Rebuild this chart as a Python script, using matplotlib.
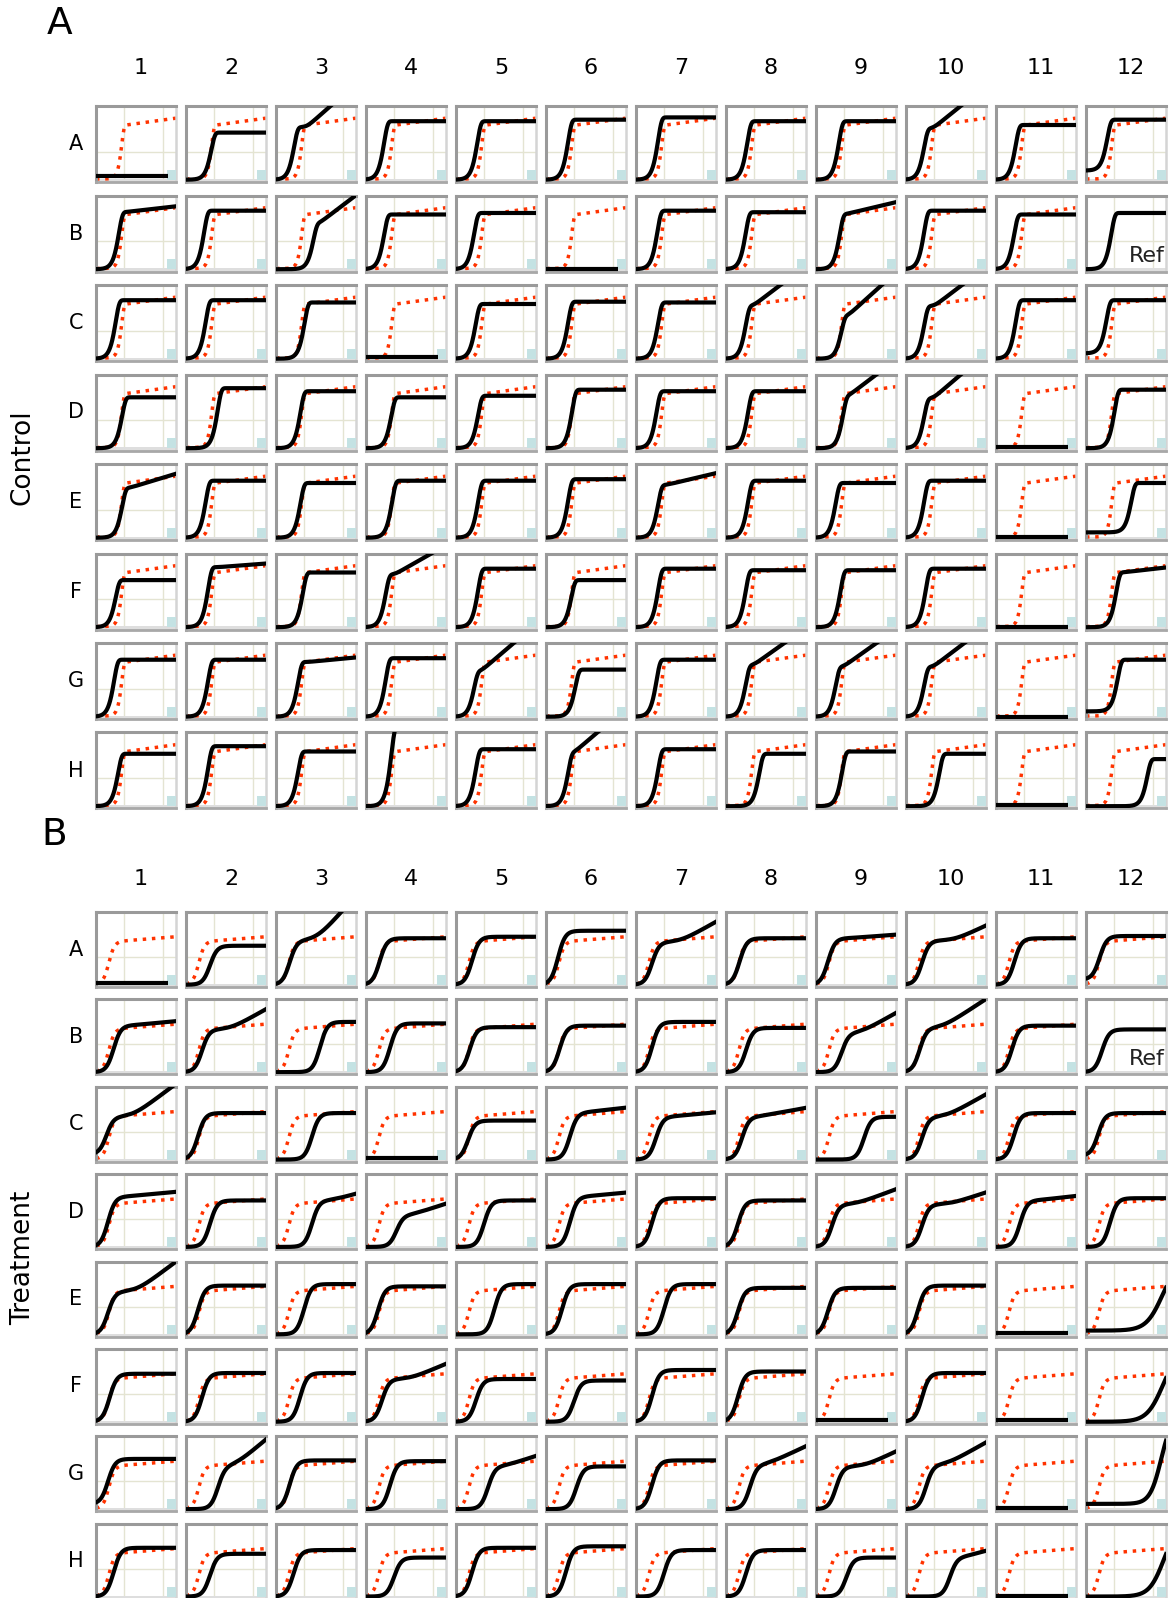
import numpy as np
import matplotlib
matplotlib.use("Agg")
import matplotlib.pyplot as plt
from matplotlib.patches import Rectangle

# ---- well layout ----
rows = list("ABCDEFGH")
cols = [str(i) for i in range(1, 13)]

# ---- reference (red) curve per panel: half-height x, plateau, drift, width ----
red_mid = [0.31, 0.16]
red_plat = [0.74, 0.60]
red_drift = [0.10, 0.07]
red_w = [0.03, 0.035]

# ---- Control panel: black curve half-height x (None = no growth) and plateau ----
ctrl_mid = [
    [None, 0.30, 0.21, 0.21, 0.25, 0.26, 0.26, 0.25, 0.27, 0.21, 0.23, 0.25],
    [0.27, 0.21, 0.45, 0.21, 0.21, None, 0.25, 0.23, 0.28, 0.21, 0.21, 0.30],
    [0.23, 0.23, 0.34, None, 0.23, 0.26, 0.26, 0.23, 0.30, 0.21, 0.23, 0.24],
    [0.31, 0.38, 0.29, 0.30, 0.26, 0.31, 0.24, 0.26, 0.32, 0.21, None, 0.34],
    [0.31, 0.23, 0.29, 0.31, 0.26, 0.26, 0.26, 0.26, 0.23, 0.21, None, 0.55],
    [0.23, 0.26, 0.32, 0.23, 0.26, 0.30, 0.26, 0.23, 0.29, 0.23, None, 0.36],
    [0.21, 0.26, 0.26, 0.23, 0.21, 0.35, 0.24, 0.23, 0.23, 0.21, None, 0.38],
    [0.26, 0.26, 0.26, 0.30, 0.23, 0.26, 0.26, 0.40, 0.31, 0.40, None, 0.75],
]
ctrl_plat = [
    [0.08, 0.65, 0.72, 0.80, 0.80, 0.82, 0.85, 0.80, 0.80, 0.70, 0.75, 0.82],
    [0.78, 0.80, 0.62, 0.75, 0.77, 0.03, 0.80, 0.78, 0.75, 0.80, 0.75, 0.77],
    [0.80, 0.80, 0.77, 0.05, 0.75, 0.78, 0.77, 0.72, 0.58, 0.72, 0.80, 0.80],
    [0.70, 0.82, 0.78, 0.70, 0.72, 0.80, 0.78, 0.78, 0.70, 0.68, 0.04, 0.80],
    [0.68, 0.78, 0.75, 0.78, 0.78, 0.80, 0.72, 0.78, 0.75, 0.78, 0.04, 0.75],
    [0.65, 0.82, 0.75, 0.72, 0.80, 0.65, 0.80, 0.78, 0.78, 0.80, 0.03, 0.75],
    [0.78, 0.78, 0.75, 0.80, 0.62, 0.65, 0.78, 0.70, 0.68, 0.68, 0.03, 0.78],
    [0.72, 0.82, 0.75, 1.10, 0.78, 0.72, 0.78, 0.72, 0.75, 0.72, 0.04, 0.65],
]
# late linear rise: well -> (start x, slope)
ctrl_rise = {
    "A3": (0.38, 0.93), "A10": (0.33, 0.85), "B1": (0.35, 0.12),
    "B3": (0.52, 0.80), "B9": (0.35, 0.25), "C8": (0.33, 0.80),
    "C9": (0.38, 0.95), "C10": (0.35, 0.80), "D9": (0.38, 0.80),
    "D10": (0.33, 0.90), "E1": (0.40, 0.32), "E7": (0.36, 0.25),
    "F2": (0.40, 0.08), "F4": (0.35, 0.60), "F12": (0.45, 0.12),
    "G3": (0.40, 0.10), "G5": (0.30, 0.90), "G8": (0.33, 0.75),
    "G9": (0.33, 0.75), "G10": (0.33, 0.80), "H6": (0.33, 0.90),
}
ctrl_base = {"A12": 0.15, "C12": 0.10, "E12": 0.10, "G12": 0.10}
ctrl_width = {}

# ---- Treatment panel ----
trt_mid = [
    [None, 0.30, 0.17, 0.17, 0.20, 0.15, 0.20, 0.17, 0.15, 0.20, 0.23, 0.17],
    [0.22, 0.20, 0.55, 0.30, 0.17, 0.17, 0.20, 0.25, 0.32, 0.17, 0.20, 0.20],
    [0.13, 0.15, 0.45, None, 0.15, 0.30, 0.25, 0.20, 0.60, 0.20, 0.22, 0.15],
    [0.15, 0.30, 0.45, 0.38, 0.35, 0.30, 0.20, 0.15, 0.20, 0.20, 0.30, 0.30],
    [0.15, 0.15, 0.35, 0.15, 0.48, 0.20, 0.35, 0.15, 0.15, 0.15, None, 0.95],
    [0.17, 0.20, 0.30, 0.20, 0.25, 0.35, 0.20, 0.15, None, 0.20, None, 0.96],
    [0.15, 0.40, 0.17, 0.30, 0.40, 0.38, 0.20, 0.30, 0.25, 0.25, None, 0.94],
    [0.22, 0.30, 0.22, 0.35, 0.20, 0.25, 0.35, 0.25, 0.38, 0.55, None, 0.97],
]
trt_plat = [
    [0.05, 0.55, 0.62, 0.65, 0.67, 0.75, 0.60, 0.65, 0.65, 0.62, 0.65, 0.68],
    [0.65, 0.60, 0.70, 0.68, 0.63, 0.65, 0.70, 0.62, 0.55, 0.62, 0.65, 0.60],
    [0.60, 0.65, 0.65, 0.05, 0.55, 0.65, 0.60, 0.60, 0.60, 0.60, 0.65, 0.65],
    [0.70, 0.65, 0.65, 0.45, 0.65, 0.70, 0.68, 0.65, 0.60, 0.60, 0.65, 0.68],
    [0.60, 0.68, 0.70, 0.67, 0.70, 0.70, 0.70, 0.65, 0.65, 0.68, 0.05, 1.00],
    [0.67, 0.68, 0.68, 0.60, 0.60, 0.58, 0.72, 0.70, 0.05, 0.68, 0.05, 1.00],
    [0.70, 0.60, 0.68, 0.67, 0.60, 0.60, 0.68, 0.62, 0.60, 0.62, 0.05, 1.30],
    [0.68, 0.60, 0.65, 0.55, 0.68, 0.70, 0.65, 0.65, 0.55, 0.55, 0.04, 1.00],
]
trt_rise = {
    "A3": (0.50, 1.20), "A7": (0.55, 0.60), "A9": (0.40, 0.08),
    "A10": (0.60, 0.50), "B1": (0.40, 0.10), "B2": (0.55, 0.60),
    "B9": (0.55, 0.60), "B10": (0.45, 0.70), "C1": (0.45, 0.80),
    "C6": (0.40, 0.12), "C7": (0.40, 0.10), "C8": (0.40, 0.20),
    "C10": (0.50, 0.60), "D1": (0.35, 0.10), "D3": (0.70, 0.30),
    "D4": (0.55, 0.35), "D6": (0.45, 0.10), "D9": (0.50, 0.40),
    "D10": (0.55, 0.35), "D11": (0.50, 0.12), "E1": (0.50, 0.80),
    "F4": (0.55, 0.45), "G2": (0.60, 0.90), "G5": (0.60, 0.35),
    "G8": (0.50, 0.50), "G9": (0.60, 0.50), "G10": (0.50, 0.60),
    "H10": (0.70, 0.30),
}
trt_base = {"A12": 0.10, "C1": 0.10, "C12": 0.08, "E12": 0.08,
            "G1": 0.10, "G12": 0.10}
# slower-rising wells: well -> width
trt_width = {"E12": 0.10, "F12": 0.10, "G12": 0.07, "H12": 0.09}

ref_well = "B12"

W, H = 1169, 1598
fig = plt.figure(figsize=(W / 100, H / 100), dpi=100)
xs = np.linspace(0, 1, 400)


def growth(x, mid, w, kind):
    # 0..1 growth curve with half height at `mid`
    if kind == "gompertz":
        # slow exponential start, sharp bend into the plateau
        m = mid - w * np.log(np.log(2))
        return 1.0 - np.exp(-np.exp(np.clip((x - m) / w, -50, 50)))
    return 1.0 / (1.0 + np.exp(-(x - mid) / w))


def softplus(t, k):
    return k * np.logaddexp(0, t / k)


panels = [
    dict(name="A", side="Control", mid=ctrl_mid, plat=ctrl_plat, rise=ctrl_rise,
         base=ctrl_base, width=ctrl_width, top=106, pitch=89.5, h=76, w=0.045,
         kind="gompertz", k=0.03, lab_y=68, side_y=457, letter=(60, 24)),
    dict(name="B", side="Treatment", mid=trt_mid, plat=trt_plat, rise=trt_rise,
         base=trt_base, width=trt_width, top=912, pitch=87.4, h=75, w=0.045,
         kind="logistic", k=0.08, lab_y=879, side_y=1258, letter=(54, 835)),
]

for p, P in enumerate(panels):
    fig.text(P["letter"][0] / W, 1 - P["letter"][1] / H, P["name"], fontsize=27,
             ha="center", va="center")
    fig.text(23 / W, 1 - P["side_y"] / H, P["side"], fontsize=19, rotation=90,
             ha="center", va="center")
    for j, c in enumerate(cols):
        fig.text((141 + 90 * j) / W, 1 - P["lab_y"] / H, c, fontsize=16,
                 ha="center", va="center")

    red = (0.04 + (red_plat[p] - 0.04) * growth(xs, red_mid[p], red_w[p], P["kind"])
           + red_drift[p] * np.clip((xs - red_mid[p]) / (1 - red_mid[p]), 0, 1))

    for i, r in enumerate(rows):
        top = P["top"] + P["pitch"] * i
        fig.text(76 / W, 1 - (top + P["h"] / 2) / H, r, fontsize=15,
                 ha="center", va="center")
        for j, c in enumerate(cols):
            well = r + c
            left = 96 + 90 * j
            ax = fig.add_axes([left / W, 1 - (top + P["h"]) / H, 80 / W, P["h"] / H])
            ax.set_xlim(0, 1)
            ax.set_ylim(0, 1)
            ax.set_xticks([])
            ax.set_yticks([])
            # grid
            for gx in (0.35, 0.84):
                ax.axvline(gx, color="#e4e4d2", lw=1, zorder=0)
            ax.axhline(0.4, color="#e4e4d2", lw=1, zorder=0)
            ax.add_patch(Rectangle((0, 0), 1, 0.04, transform=ax.transAxes,
                                   color="#dedede", lw=0, zorder=0))
            for s in ("top", "left"):
                ax.spines[s].set_color("#9a9a9a")
                ax.spines[s].set_linewidth(2.2)
            ax.spines["bottom"].set_color("#a8a8a8")
            ax.spines["bottom"].set_linewidth(2.0)
            ax.spines["right"].set_color("#d4d4d4")
            ax.spines["right"].set_linewidth(1.8)

            is_ref = (well == ref_well)
            if not is_ref:
                ax.plot(xs, red, ls=":", color="#ff3300", lw=2.5, zorder=2)
                ax.add_patch(Rectangle((0.89, 0.03), 0.11, 0.13,
                                       transform=ax.transAxes,
                                       color="#c4e2e3", lw=0, zorder=3))

            m = P["mid"][i][j]
            lvl = P["plat"][i][j]
            if m is None:
                sel = xs <= 0.9
                ax.plot(xs[sel], np.full(sel.sum(), lvl), color="black",
                        lw=3.0, zorder=4, solid_capstyle="butt")
            else:
                b = P["base"].get(well, 0.03)
                wd = P["width"].get(well, P["w"])
                y = b + (lvl - b) * growth(xs, m, wd, P["kind"])
                if well in P["rise"]:
                    s0, sl = P["rise"][well]
                    y = y + sl * softplus(xs - s0, P["k"])
                ax.plot(xs, y, color="black", lw=3.0, zorder=4)
            if is_ref:
                ax.text(0.99, 0.12, "Ref", transform=ax.transAxes, ha="right",
                        va="baseline", fontsize=16, color="#222222")

fig.savefig("out.png", dpi=100)
